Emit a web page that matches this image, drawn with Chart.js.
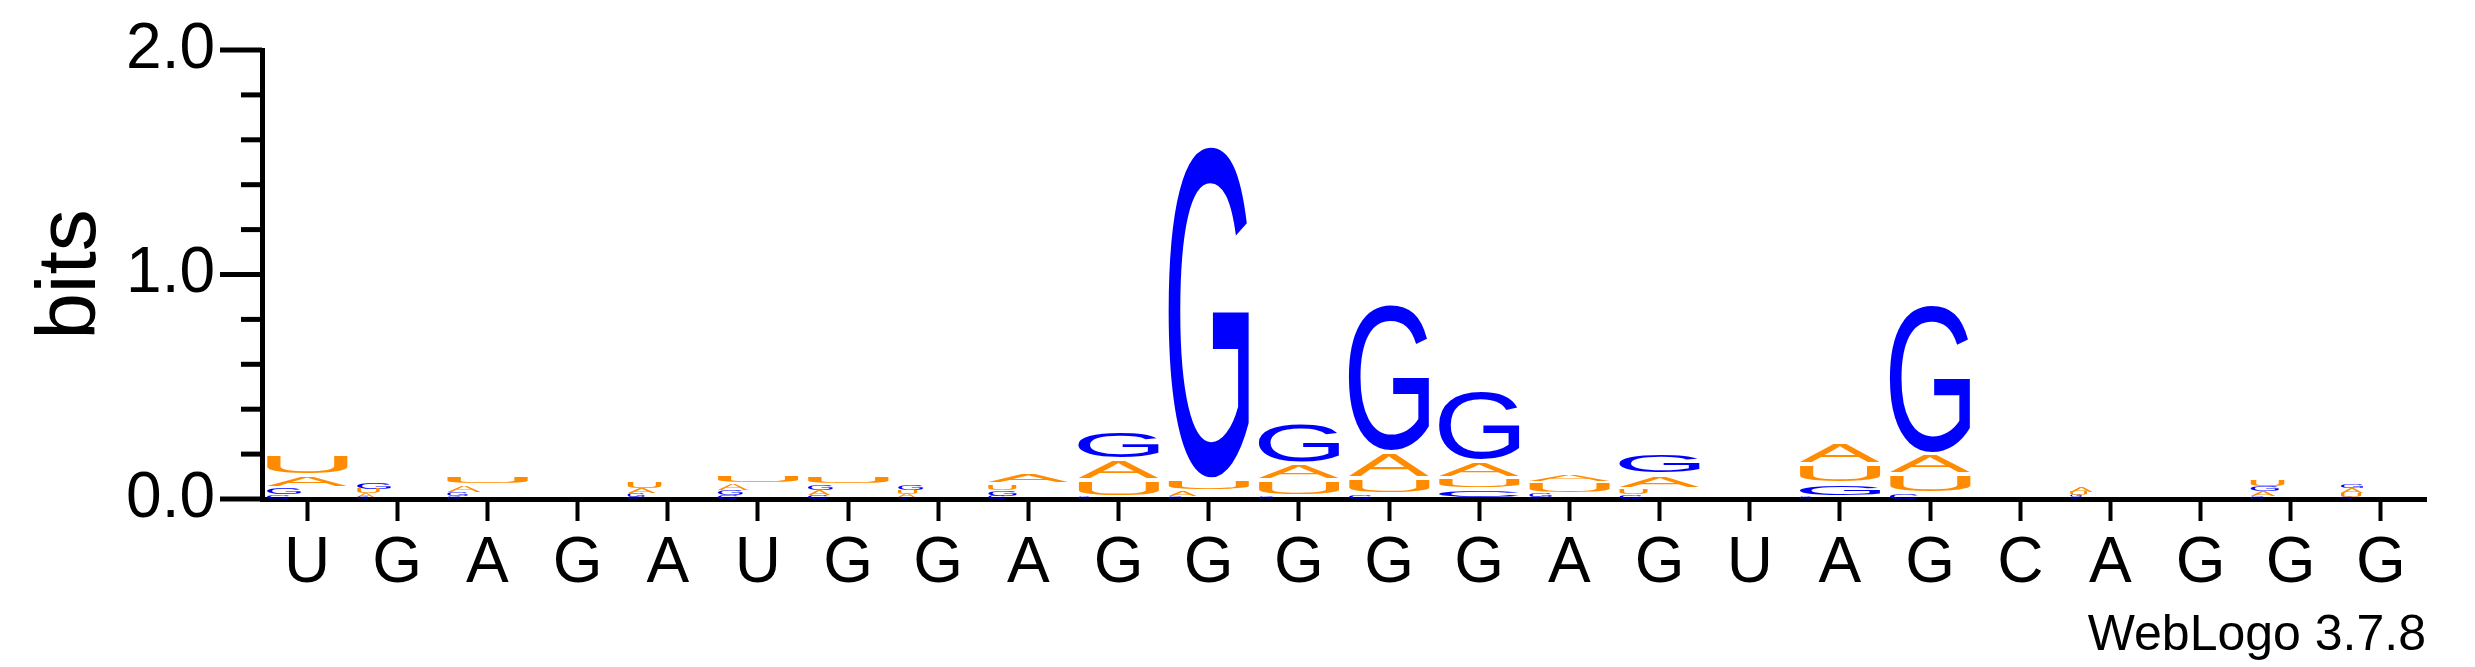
<!DOCTYPE html>
<html>
<head>
<meta charset="utf-8">
<script src="https://cdn.jsdelivr.net/npm/chart.js@4.4.1/dist/chart.umd.min.js"></script>
<style>
  html, body { margin: 0; padding: 0; background: #fff; }
  canvas { display: block; }
</style>
</head>
<body>
<canvas id="logoChart" width="2475" height="667"></canvas>
<script>
// Sequence positions (x axis labels)
const positions = ["U", "G", "A", "G", "A", "U", "G", "G", "A", "G", "G", "G",
  "G", "G", "A", "G", "U", "A", "G", "C", "A", "G", "G", "G"];

// Letter heights in bits, one value per position
const bitsA = [0.055, 0.015, 0.030, 0.003, 0.025, 0.027, 0.020, 0.015, 0.052, 0.093, 0.025, 0.075,
  0.115, 0.075, 0.048, 0.065, 0.003, 0.100, 0.090, 0.002, 0.020, 0.002, 0.022, 0.020];
const bitsC = [0.020, 0.010, 0.012, 0.002, 0.010, 0.018, 0.018, 0.008, 0.015, 0.010, 0.012, 0.013,
  0.020, 0.045, 0.010, 0.020, 0.002, 0.010, 0.025, 0.003, 0.008, 0.003, 0.012, 0.010];
const bitsG = [0.030, 0.030, 0.018, 0.003, 0.015, 0.022, 0.022, 0.022, 0.025, 0.129, 1.490, 0.182,
  0.663, 0.315, 0.020, 0.095, 0.003, 0.060, 0.667, 0.002, 0.010, 0.003, 0.025, 0.020];
const bitsU = [0.095, 0.020, 0.045, 0.003, 0.030, 0.047, 0.045, 0.017, 0.025, 0.075, 0.050, 0.071,
  0.072, 0.050, 0.042, 0.025, 0.002, 0.085, 0.085, 0.003, 0.015, 0.002, 0.030, 0.018];

// y axis range and tick step (bits)
const yMax = 2.0;
const yStep = 0.2;

document.addEventListener("DOMContentLoaded", function () {
  const ctx = document.getElementById("logoChart").getContext("2d");
  const FONT = "'Liberation Sans', Arial, Helvetica, sans-serif";

  const letters = { A: bitsA, C: bitsC, G: bitsG, U: bitsU };
  const colors = { A: "#FF8C00", U: "#FF8C00", G: "#0000FF", C: "#0000FF" };

  // stack the letters of each column, smallest at the bottom
  const ranges = { A: [], C: [], G: [], U: [] };
  positions.forEach(function (_, i) {
    const order = Object.keys(letters).sort(function (a, b) {
      return letters[a][i] - letters[b][i];
    });
    let y = 0;
    order.forEach(function (l) {
      ranges[l][i] = [y, y + letters[l][i]];
      y += letters[l][i];
    });
  });

  const isMajor = function (v) {
    return Math.abs(v - Math.round(v)) < 1e-6;
  };

  // draws each bar as a stretched letter
  const glyphPlugin = {
    id: "glyphs",
    afterDatasetsDraw(chart) {
      const c = chart.ctx;
      chart.data.datasets.forEach(function (ds, di) {
        const meta = chart.getDatasetMeta(di);
        c.save();
        c.font = "200px " + FONT;
        c.textAlign = "left";
        c.textBaseline = "alphabetic";
        const m = c.measureText(ds.label);
        const inkW = m.actualBoundingBoxLeft + m.actualBoundingBoxRight;
        const inkH = m.actualBoundingBoxAscent + m.actualBoundingBoxDescent;
        c.fillStyle = ds.glyphColor;
        meta.data.forEach(function (bar) {
          let top = bar.y;
          let h = bar.base - bar.y;
          if (h < 1.5) return;
          let w = bar.width;
          if (h < 8) w = Math.min(w, h * 5); // tiny glyphs come out narrow
          if (h > 10) { top += 2; h -= 4; } // small gap between stacked letters
          c.save();
          c.translate(bar.x - bar.width / 2, top);
          c.scale(w / inkW, h / inkH);
          c.fillText(ds.label, m.actualBoundingBoxLeft, m.actualBoundingBoxAscent);
          c.restore();
        });
        c.restore();
      });
    },
    afterDraw(chart) {
      const c = chart.ctx;
      const y = chart.scales.y;
      c.save();
      c.strokeStyle = "#000";
      c.lineWidth = 5;
      y.ticks.forEach(function (t) {
        const py = y.getPixelForValue(t.value);
        const len = isMajor(t.value) ? 42 : 21;
        c.beginPath();
        c.moveTo(y.right - len, py);
        c.lineTo(y.right, py);
        c.stroke();
      });
      c.fillStyle = "#000";
      c.font = "50px " + FONT;
      c.textAlign = "right";
      c.textBaseline = "alphabetic";
      c.fillText("WebLogo 3.7.8", chart.chartArea.right, chart.height - 17);
      c.restore();
    },
  };

  const datasets = Object.keys(letters).map(function (l) {
    return {
      label: l,
      data: ranges[l],
      glyphColor: colors[l],
      backgroundColor: "rgba(0,0,0,0)",
      borderWidth: 0,
      grouped: false,
      barPercentage: 1,
      categoryPercentage: 0.89,
    };
  });

  new Chart(ctx, {
    type: "bar",
    data: { labels: positions, datasets: datasets },
    options: {
      responsive: false,
      animation: false,
      layout: { padding: { top: 50, right: 49, bottom: 0, left: 0 } },
      scales: {
        x: {
          z: 1,
          border: { display: true, color: "#000", width: 5 },
          grid: {
            display: true,
            drawOnChartArea: false,
            drawTicks: true,
            tickLength: 22,
            tickWidth: 4,
            tickColor: "#000",
            offset: false,
          },
          ticks: {
            color: "#000",
            font: { family: FONT, size: 64 },
            padding: 5,
            autoSkip: false,
            maxRotation: 0,
          },
          afterFit: function (scale) {
            scale.height = 168;
          },
        },
        y: {
          min: 0,
          max: yMax,
          border: { display: true, color: "#000", width: 5 },
          grid: { display: false, drawTicks: true, tickLength: 42 },
          ticks: {
            stepSize: yStep,
            autoSkip: false,
            color: "#000",
            font: { family: FONT, size: 64 },
            padding: 5,
            callback: function (v) {
              return isMajor(v) ? v.toFixed(1) : "";
            },
          },
          title: {
            display: true,
            text: "bits",
            color: "#000",
            font: { family: FONT, size: 84 },
            padding: { top: 21, bottom: 0 },
          },
          afterFit: function (scale) {
            scale.width = 262;
          },
        },
      },
      plugins: {
        legend: { display: false },
        tooltip: { enabled: false },
      },
    },
    plugins: [glyphPlugin],
  });
});
</script>
</body>
</html>
